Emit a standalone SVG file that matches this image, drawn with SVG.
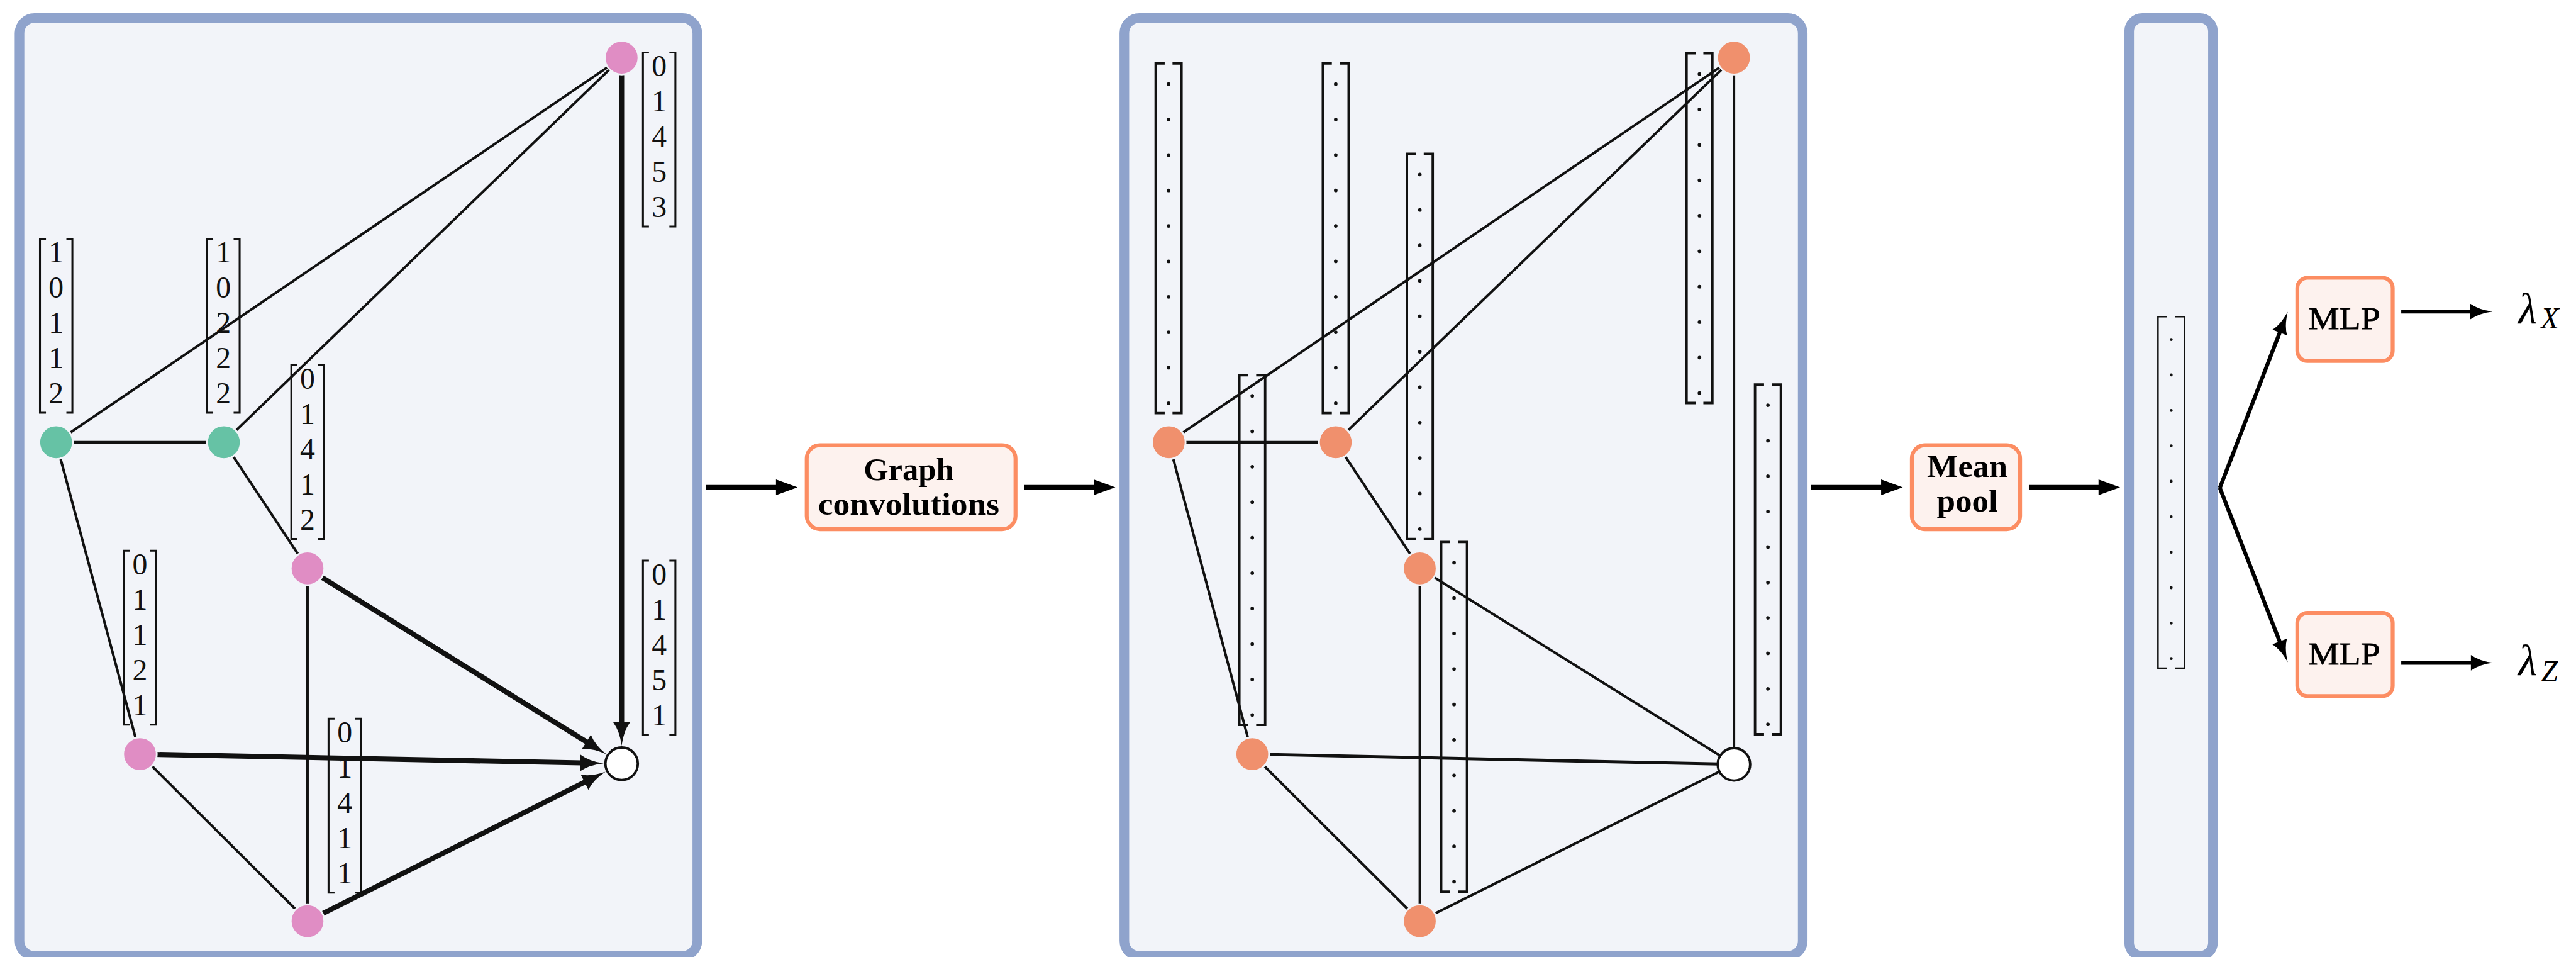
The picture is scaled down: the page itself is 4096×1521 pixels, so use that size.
<svg xmlns="http://www.w3.org/2000/svg" width="4096" height="1521" viewBox="0 0 4096 1521">
<style>
.panel{fill:#f2f4f9;stroke:#8fa3cc;stroke-width:16}
.op{fill:#fdf2ee;stroke:#fc8d62;stroke-width:6.5}
.edge{stroke:#111;stroke-width:4.2;fill:none;stroke-linecap:butt}
.thick{stroke:#111;stroke-width:8.5;fill:none}
.flow{stroke:#000;stroke-width:8;fill:none}
.out{stroke:#000;stroke-width:6.5;fill:none}
.brk{stroke:#111;stroke-width:3.2;fill:none}
.brk2{stroke:#111;stroke-width:4;fill:none}
.brk3{stroke:#111;stroke-width:2.6;fill:none}
.dots{stroke:#111;stroke-width:6;stroke-linecap:round;stroke-dasharray:0 59;fill:none}
.dots3{stroke:#111;stroke-width:5;stroke-linecap:round;stroke-dasharray:0 59;fill:none}
.num{font-family:"Liberation Serif","DejaVu Serif",serif;font-size:50px;fill:#111;text-anchor:middle}
.lbl{font-family:"Liberation Serif","DejaVu Serif",serif;font-weight:bold;font-size:53px;fill:#000;text-anchor:middle}
.mlp{font-family:"Liberation Serif","DejaVu Serif",serif;font-size:52px;fill:#000;text-anchor:middle;stroke:#000;stroke-width:0.8}
.math{font-family:"Liberation Serif","DejaVu Serif",serif;font-style:italic;fill:#000}
.teal{fill:#66c2a5;stroke:#f2f4f9;stroke-width:3}
.pink{fill:#e08dc4;stroke:#f2f4f9;stroke-width:3}
.orange{fill:#f0906d;stroke:#f2f4f9;stroke-width:3}
.target{fill:#fff;stroke:#111;stroke-width:4}
</style>
<defs>
<marker id="latex" markerUnits="userSpaceOnUse" viewBox="-5 -16 45 32" refX="0" refY="0" markerWidth="45" markerHeight="32" orient="auto">
<path d="M36,0 Q12,3 -3,14 L-3,-14 Q12,-3 36,0 Z" fill="#111"/>
</marker>
<marker id="latexS" markerUnits="userSpaceOnUse" viewBox="-5 -15 42 30" refX="0" refY="0" markerWidth="42" markerHeight="30" orient="auto">
<path d="M34,0 Q11,3 -3,13 L-3,-13 Q11,-3 34,0 Z" fill="#000"/>
</marker>
<marker id="tri" markerUnits="userSpaceOnUse" viewBox="-2 -15 40 30" refX="2" refY="0" markerWidth="40" markerHeight="30" orient="auto">
<path d="M0,-13 L36,0 L0,13 Z" fill="#000"/>
</marker>
</defs>
<g transform="scale(0.955)">
<g id="panel-input">
<rect class="panel" x="32.5" y="30" width="1128.5" height="1561" rx="25"/>
</g>
<g id="panel-hidden">
<rect class="panel" x="1872" y="30" width="1129.5" height="1561" rx="25"/>
</g>
<g id="panel-pooled">
<rect class="panel" x="3545" y="30" width="139.5" height="1561" rx="22"/>
</g>

<g id="features-input">
<g id="vec-a">
<path class="brk" d="M1080.5,87.5H1070.5V377H1080.5M1114.5,87.5H1124.5V377H1114.5"/>
<text class="num" x="1097.5" y="127">0</text><text class="num" x="1097.5" y="185.6">1</text><text class="num" x="1097.5" y="244.2">4</text><text class="num" x="1097.5" y="302.8">5</text><text class="num" x="1097.5" y="361.4">3</text>
</g>
<g id="vec-b">
<path class="brk" d="M76.5,397.5H66.5V687H76.5M110.5,397.5H120.5V687H110.5"/>
<text class="num" x="93.5" y="437">1</text><text class="num" x="93.5" y="495.6">0</text><text class="num" x="93.5" y="554.2">1</text><text class="num" x="93.5" y="612.8">1</text><text class="num" x="93.5" y="671.4">2</text>
</g>
<g id="vec-c">
<path class="brk" d="M355,397.5H345V687H355M389,397.5H399V687H389"/>
<text class="num" x="372" y="437">1</text><text class="num" x="372" y="495.6">0</text><text class="num" x="372" y="554.2">2</text><text class="num" x="372" y="612.8">2</text><text class="num" x="372" y="671.4">2</text>
</g>
<g id="vec-d">
<path class="brk" d="M495,607.5H485V897H495M529,607.5H539V897H529"/>
<text class="num" x="512" y="647">0</text><text class="num" x="512" y="705.6">1</text><text class="num" x="512" y="764.2">4</text><text class="num" x="512" y="822.8">1</text><text class="num" x="512" y="881.4">2</text>
</g>
<g id="vec-e">
<path class="brk" d="M216,916.5H206V1206H216M250,916.5H260V1206H250"/>
<text class="num" x="233" y="956">0</text><text class="num" x="233" y="1014.6">1</text><text class="num" x="233" y="1073.2">1</text><text class="num" x="233" y="1131.8">2</text><text class="num" x="233" y="1190.4">1</text>
</g>
<g id="vec-f">
<path class="brk" d="M1080.5,933H1070.5V1222.5H1080.5M1114.5,933H1124.5V1222.5H1114.5"/>
<text class="num" x="1097.5" y="972.5">0</text><text class="num" x="1097.5" y="1031.1">1</text><text class="num" x="1097.5" y="1089.7">4</text><text class="num" x="1097.5" y="1148.3">5</text><text class="num" x="1097.5" y="1206.9">1</text>
</g>
<g id="vec-g">
<path class="brk" d="M557,1196H547V1485.6H557M591,1196H601V1485.6H591"/>
<text class="num" x="574" y="1235.6">0</text><text class="num" x="574" y="1294.2">1</text><text class="num" x="574" y="1352.8">4</text><text class="num" x="574" y="1411.4">1</text><text class="num" x="574" y="1470">1</text>
</g>
</g>

<g id="features-hidden">
<g id="hvec-1"><path class="brk2" d="M1939.2,105.6H1924.2V687.6H1939.2M1952.2,105.6H1967.2V687.6H1952.2"/><line class="dots" x1="1945.7" y1="140" x2="1945.7" y2="672"/></g>
<g id="hvec-2"><path class="brk2" d="M2217.5,105.6H2202.5V687.6H2217.5M2230.5,105.6H2245.5V687.6H2230.5"/><line class="dots" x1="2224" y1="140" x2="2224" y2="672"/></g>
<g id="hvec-3"><path class="brk2" d="M2357.5,256H2342.5V897H2357.5M2370.5,256H2385.5V897H2370.5"/><line class="dots" x1="2364" y1="290.4" x2="2364" y2="881.4"/></g>
<g id="hvec-4"><path class="brk2" d="M2823.1,88.7H2808.1V670.7H2823.1M2836.1,88.7H2851.1V670.7H2836.1"/><line class="dots" x1="2829.6" y1="123.1" x2="2829.6" y2="655.1"/></g>
<g id="hvec-5"><path class="brk2" d="M2078.5,624.4H2063.5V1206.4H2078.5M2091.5,624.4H2106.5V1206.4H2091.5"/><line class="dots" x1="2085" y1="658.8" x2="2085" y2="1190.8"/></g>
<g id="hvec-6"><path class="brk2" d="M2937.1,640H2922.1V1222H2937.1M2950.1,640H2965.1V1222H2950.1"/><line class="dots" x1="2943.6" y1="674.4" x2="2943.6" y2="1206.4"/></g>
<g id="hvec-7"><path class="brk2" d="M2414.5,902H2399.5V1484H2414.5M2427.5,902H2442.5V1484H2427.5"/><line class="dots" x1="2421" y1="936.4" x2="2421" y2="1468.4"/></g>
<g id="pooled-vec"><path class="brk3" d="M3608,527H3593V1112H3608M3622,527H3637V1112H3622"/><line class="dots3" x1="3615" y1="565" x2="3615" y2="1097"/></g>
</g>

<g id="connectors">
<g id="edges-input">
<line class="edge" x1="93.4" y1="736" x2="1035" y2="96"/>
<line class="edge" x1="372.7" y1="736" x2="1035" y2="96"/>
<line class="edge" x1="93.4" y1="736" x2="372.7" y2="736"/>
<line class="edge" x1="372.7" y1="736" x2="512" y2="946"/>
<line class="edge" x1="93.4" y1="736" x2="233" y2="1255"/>
<line class="edge" x1="512" y1="946" x2="512" y2="1533"/>
<line class="edge" x1="233" y1="1255" x2="512" y2="1533"/>
<line class="thick" x1="1035" y1="96" x2="1035" y2="1205" marker-end="url(#latex)"/>
<line class="thick" x1="512" y1="946" x2="978.9" y2="1236.2" marker-end="url(#latex)"/>
<line class="thick" x1="233" y1="1255" x2="969" y2="1269.7" marker-end="url(#latex)"/>
<line class="thick" x1="512" y1="1533" x2="976" y2="1300.5" marker-end="url(#latex)"/>
</g>
<g id="edges-hidden">
<line class="edge" x1="1946" y1="736" x2="2887" y2="96"/>
<line class="edge" x1="2224" y1="736" x2="2887" y2="96"/>
<line class="edge" x1="1946" y1="736" x2="2224" y2="736"/>
<line class="edge" x1="2224" y1="736" x2="2364" y2="946"/>
<line class="edge" x1="1946" y1="736" x2="2085" y2="1255"/>
<line class="edge" x1="2364" y1="946" x2="2364" y2="1533"/>
<line class="edge" x1="2085" y1="1255" x2="2364" y2="1533"/>
<line class="edge" x1="2364" y1="946" x2="2887" y2="1272"/>
<line class="edge" x1="2085" y1="1255" x2="2887" y2="1272" style="stroke-width:5.2"/>
<line class="edge" x1="2364" y1="1533" x2="2887" y2="1272"/>
<line class="edge" x1="2887" y1="96" x2="2887" y2="1272"/>
</g>
<g id="flow">
<line class="flow" x1="1175" y1="811" x2="1294" y2="811" marker-end="url(#tri)"/>
<line class="flow" x1="1705" y1="811" x2="1823" y2="811" marker-end="url(#tri)"/>
<line class="flow" x1="3015" y1="811" x2="3134" y2="811" marker-end="url(#tri)"/>
<line class="flow" x1="3378" y1="811" x2="3496" y2="811" marker-end="url(#tri)"/>
<line class="out" x1="3696" y1="812" x2="3796.8" y2="550.7" marker-end="url(#latexS)"/>
<line class="out" x1="3696" y1="812" x2="3796.7" y2="1070.3" marker-end="url(#latexS)"/>
<line class="out" x1="3998" y1="518.5" x2="4116" y2="518.5" marker-end="url(#latexS)"/>
<line class="out" x1="3998" y1="1103" x2="4117" y2="1103" marker-end="url(#latexS)"/>
</g>
</g>

<g id="nodes-input">
<circle id="in-top" class="pink" cx="1035" cy="96" r="28"/>
<circle id="in-t1" class="teal" cx="93.4" cy="736" r="28"/>
<circle id="in-t2" class="teal" cx="372.7" cy="736" r="28"/>
<circle id="in-p3" class="pink" cx="512" cy="946" r="28"/>
<circle id="in-p4" class="pink" cx="233" cy="1255" r="28"/>
<circle id="in-p5" class="pink" cx="512" cy="1533" r="28"/>
<circle id="in-target" class="target" cx="1035" cy="1271" r="27"/>
</g>
<g id="nodes-hidden">
<circle id="h-top" class="orange" cx="2887" cy="96" r="28"/>
<circle id="h-1" class="orange" cx="1946" cy="736" r="28"/>
<circle id="h-2" class="orange" cx="2224" cy="736" r="28"/>
<circle id="h-3" class="orange" cx="2364" cy="946" r="28"/>
<circle id="h-4" class="orange" cx="2085" cy="1255" r="28"/>
<circle id="h-5" class="orange" cx="2364" cy="1533" r="28"/>
<circle id="h-target" class="target" cx="2887" cy="1272" r="27"/>
</g>

<g id="graph-conv">
<rect class="op" x="1343.2" y="741" width="347.6" height="139.7" rx="22"/>
<text class="lbl" x="1513" y="799" textLength="150" lengthAdjust="spacingAndGlyphs">Graph</text>
<text class="lbl" x="1513" y="856.7" textLength="302" lengthAdjust="spacingAndGlyphs">convolutions</text>
</g>
<g id="mean-pool">
<rect class="op" x="3183.2" y="741" width="180.2" height="139.7" rx="22"/>
<text class="lbl" x="3275.5" y="794" textLength="134" lengthAdjust="spacingAndGlyphs">Mean</text>
<text class="lbl" x="3275.5" y="851.7" textLength="102" lengthAdjust="spacingAndGlyphs">pool</text>
</g>
<g id="mlp-x">
<rect class="op" x="3825" y="462.3" width="158.8" height="138.5" rx="17"/>
<text class="mlp" x="3903" y="548" textLength="120" lengthAdjust="spacingAndGlyphs">MLP</text>
</g>
<g id="mlp-z">
<rect class="op" x="3825" y="1020" width="158.8" height="138.5" rx="17"/>
<text class="mlp" x="3903" y="1106" textLength="120" lengthAdjust="spacingAndGlyphs">MLP</text>
</g>
<g id="out-x">
<text class="math" x="4193" y="538" font-size="72">λ</text>
<text class="math" x="4230" y="547" font-size="50">X</text>
</g>
<g id="out-z">
<text class="math" x="4193" y="1124" font-size="72">λ</text>
<text class="math" x="4231" y="1134" font-size="50">Z</text>
</g>
</g>
</svg>
